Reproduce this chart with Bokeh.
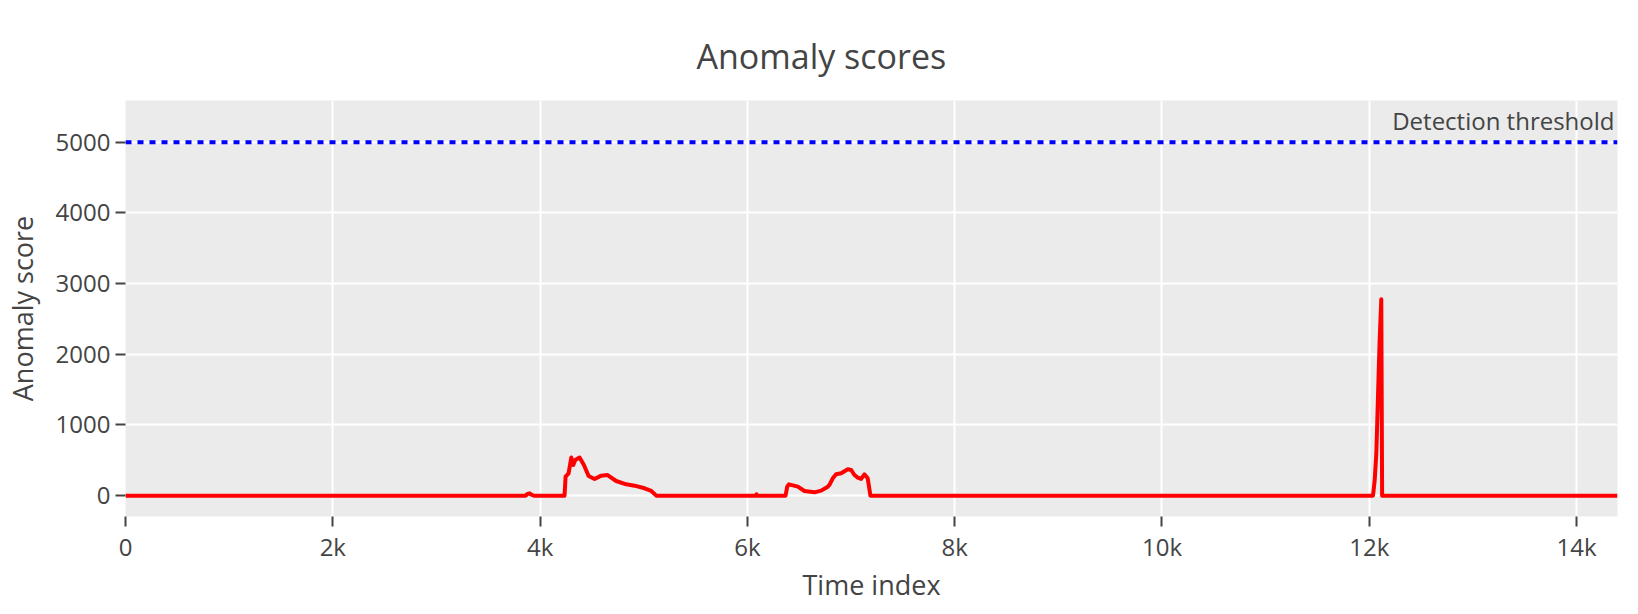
from bokeh.plotting import figure
from bokeh.models import FixedTicker, Span, Label, Range1d
from bokeh.embed import file_html
from bokeh.resources import INLINE

# ---- data ----
time_index = [0, 3860, 3880, 3899, 3920, 3940, 4236, 4246, 4275, 4301, 4320, 4339,
              4381, 4423, 4468, 4526, 4590, 4648, 4734, 4831, 4912, 5008, 5073, 5121,
              6080, 6088, 6096, 6368, 6385, 6400, 6487, 6551, 6647, 6712, 6776, 6792,
              6824, 6856, 6905, 6969, 7001, 7033, 7065, 7097, 7129, 7161, 7187,
              12036, 12052, 12068, 12084, 12100, 12116, 12124, 14395]
anomaly_score = [0, 0, 25, 33, 10, 0, 0, 269, 316, 540, 434, 505,
                 540, 434, 278, 236, 283, 293, 207, 160, 141, 104, 66, 0,
                 0, 20, 0, 0, 130, 160, 127, 66, 47, 71, 127, 151,
                 245, 302, 316, 373, 363, 292, 255, 236, 302, 245, 0,
                 0, 210, 590, 1390, 2190, 2778, 0, 0]
threshold = 5000
threshold_label = "Detection threshold"

x_tick_values = [0, 2000, 4000, 6000, 8000, 10000, 12000, 14000]
x_tick_labels = ["0", "2k", "4k", "6k", "8k", "10k", "12k", "14k"]
y_tick_values = [0, 1000, 2000, 3000, 4000, 5000]

FONT = "Open Sans"
TXT = "#444444"

p = figure(width=1622, height=606, output_backend="svg", toolbar_location=None,
           x_range=Range1d(0, 14395), y_range=Range1d(-295, 5590),
           min_border_left=124, min_border_right=5, min_border_top=100,
           min_border_bottom=90)

p.background_fill_color = "#ebebeb"
p.border_fill_color = "white"
p.outline_line_color = None

# the regular axes (below and left)
xaxis = p.below[0]
yaxis = p.left[0]

# title
p.title.text = "Anomaly scores"
p.title.align = "left"
p.title.offset = 571
p.title.vertical_align = "bottom"
p.title.standoff = 44
p.title.text_font = FONT
p.title.text_font_size = "34px"
p.title.text_font_style = "normal"
p.title.text_color = TXT

# grid
for g in (p.xgrid, p.ygrid):
    g.grid_line_color = "white"
    g.grid_line_width = 2
p.xgrid.ticker = FixedTicker(ticks=x_tick_values)
p.ygrid.ticker = FixedTicker(ticks=y_tick_values)

# axes
xaxis.ticker = FixedTicker(ticks=x_tick_values)
xaxis.major_label_overrides = {v: l for v, l in zip(x_tick_values, x_tick_labels)}
yaxis.ticker = FixedTicker(ticks=y_tick_values)
xaxis.axis_label = "Time index"
yaxis.axis_label = "Anomaly score"
for ax in (xaxis, yaxis):
    ax.axis_line_color = None
    ax.major_tick_line_color = TXT
    ax.major_tick_line_width = 2
    ax.major_tick_out = 10
    ax.major_tick_in = 0
    ax.minor_tick_line_color = None
    ax.major_label_text_font = FONT
    ax.major_label_text_font_size = "24px"
    ax.major_label_text_color = TXT
    ax.axis_label_text_font = FONT
    ax.axis_label_text_font_size = "27px"
    ax.axis_label_text_font_style = "normal"
    ax.axis_label_text_color = TXT
xaxis.major_label_standoff = 3
yaxis.major_label_standoff = 5
xaxis.axis_label_standoff = 0
yaxis.axis_label_standoff = 12

# threshold
p.add_layout(Span(location=threshold, dimension="width", line_color="blue",
                  line_width=4, line_dash="6 6"))
p.add_layout(Label(x=14395, y=threshold, text=threshold_label, text_align="right",
                   text_baseline="alphabetic", x_offset=-3, y_offset=22,
                   text_font=FONT, text_font_size="24px", text_color=TXT))

# series
p.line(time_index, anomaly_score, line_color="red", line_width=4, line_join="round")

open("out.html", "w").write(file_html(p, INLINE))
